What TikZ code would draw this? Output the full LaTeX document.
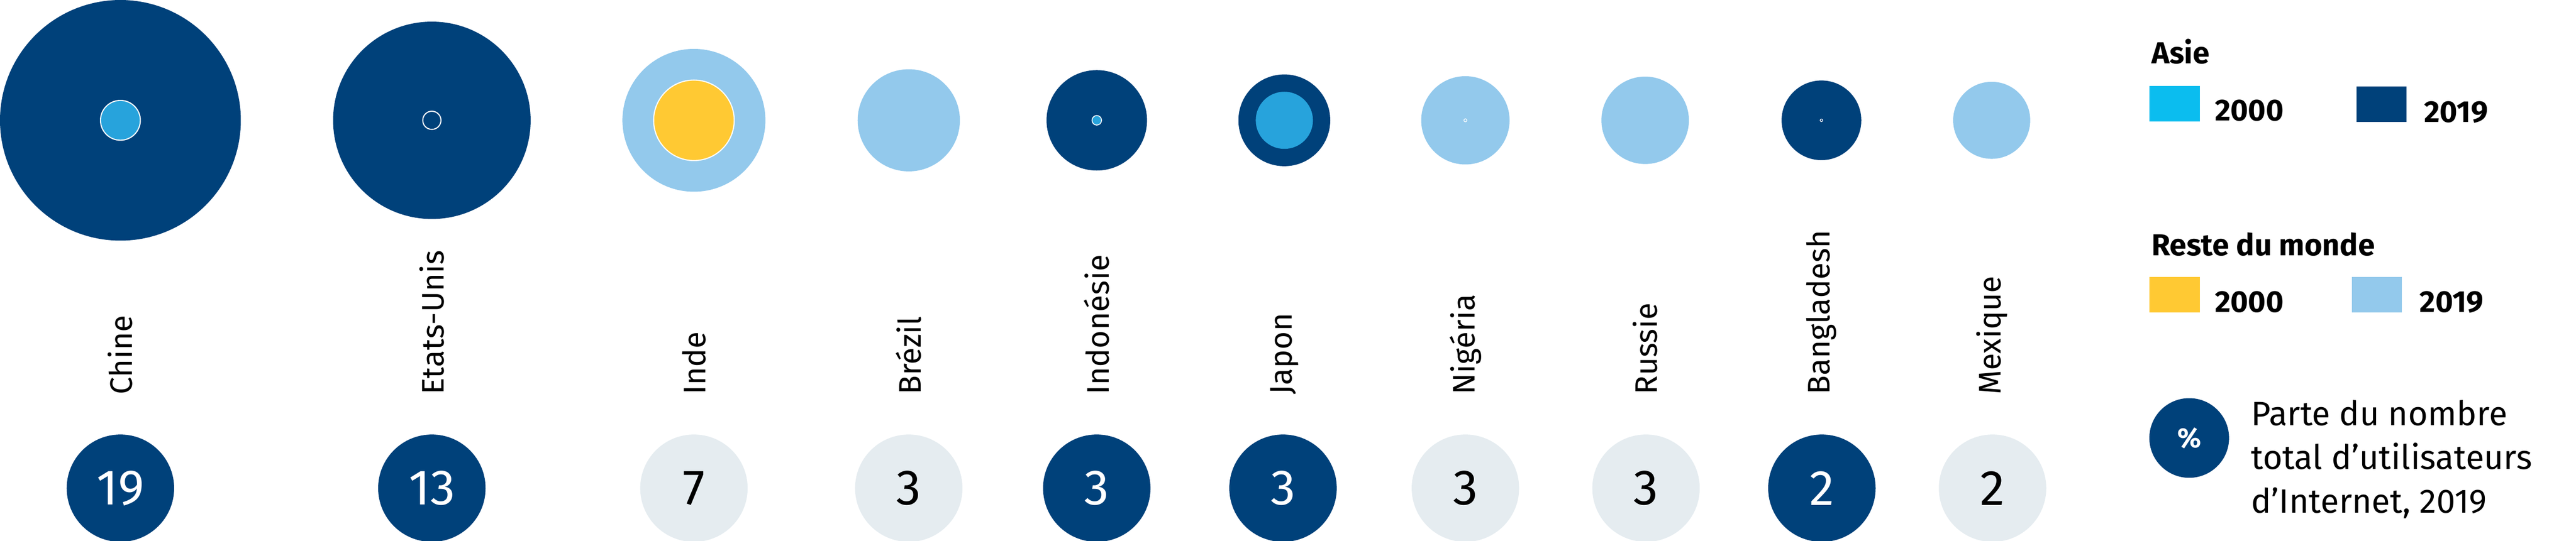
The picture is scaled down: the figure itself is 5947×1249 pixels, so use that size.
\documentclass[tikz,border=0pt]{standalone}
\usepackage{fontspec}
\setmainfont{Fira Sans}
\definecolor{dblue}{HTML}{00417A}
\definecolor{ablue}{HTML}{27A3DC}
\definecolor{legblue}{HTML}{0BBDEF}
\definecolor{lblue}{HTML}{93C9EC}
\definecolor{yel}{HTML}{FFC933}
\definecolor{lgrey}{HTML}{E5ECF0}
\begin{document}
\begin{tikzpicture}[x=1pt,y=-1pt,
  outer/.style={circle,inner sep=0pt,minimum size=#1},
  inner/.style={circle,inner sep=0pt,minimum size=#1,draw=white,line width=2.5pt},
  clabel/.style={rotate=90,anchor=west,inner sep=0pt,font=\fontsize{72}{80}\selectfont},
  share/.style={circle,inner sep=0pt,minimum size=248,font=\fontsize{115}{120}\selectfont},
  sharedark/.style={share,fill=dblue,text=white},
  sharelight/.style={share,fill=lgrey,text=black},
  swatch/.style={inner sep=0pt,minimum width=116,minimum height=82,anchor=north west},
  legtitle/.style={anchor=base west,inner sep=0pt,font=\bfseries\fontsize{70}{74}\selectfont},
  legtext/.style={anchor=base west,inner sep=0pt,font=\bfseries\fontsize{70}{74}\selectfont}]
\useasboundingbox (0,0) rectangle (5947,1249);
% big circles
\node[outer=556,fill=dblue] (o1) at (278,278) {};
\node[inner=92,fill=ablue] (i1) at (278,278) {};
\node[outer=456,fill=dblue] (o2) at (997,278) {};
\node[inner=42,fill=dblue] (i2) at (997,278) {};
\node[outer=330,fill=lblue] (o3) at (1602,278) {};
\node[inner=186,fill=yel] (i3) at (1602,278) {};
\node[outer=236,fill=lblue] (o4) at (2098,278) {};
\node[outer=232,fill=dblue] (o5) at (2532,278) {};
\node[inner=22,fill=ablue,line width=2pt] (i5) at (2532,278) {};
\node[outer=212,fill=dblue] (o6) at (2965,278) {};
\node[circle,inner sep=0pt,minimum size=132,fill=ablue] (i6) at (2965,278) {};
\node[outer=204,fill=lblue] (o7) at (3383,278) {};
\node[inner=7,fill=lblue,line width=1.5pt] (i7) at (3383,278) {};
\node[outer=202,fill=lblue] (o8) at (3798,278) {};
\node[outer=184,fill=dblue] (o9) at (4205,278) {};
\node[inner=6,fill=dblue,line width=1.5pt] (i9) at (4205,278) {};
\node[outer=178,fill=lblue] (o10) at (4598,278) {};
% labels
\node[clabel] (l1) at (278,912) {Chine};
\node[clabel] (l2) at (997,912) {Etats-Unis};
\node[clabel] (l3) at (1602,912) {Inde};
\node[clabel] (l4) at (2098,912) {Brézil};
\node[clabel] (l5) at (2532,912) {Indonésie};
\node[clabel] (l6) at (2965,912) {Japon};
\node[clabel] (l7) at (3383,912) {Nigéria};
\node[clabel] (l8) at (3798,912) {Russie};
\node[clabel] (l9) at (4205,912) {Bangladesh};
\node[clabel] (l10) at (4598,912) {Mexique};
% shares
\node[sharedark] (s1) at (278,1128) {19};
\node[sharedark] (s2) at (997,1128) {13};
\node[sharelight] (s3) at (1602,1128) {7};
\node[sharelight] (s4) at (2098,1128) {3};
\node[sharedark] (s5) at (2532,1128) {3};
\node[sharedark] (s6) at (2962,1128) {3};
\node[sharelight] (s7) at (3383,1128) {3};
\node[sharelight] (s8) at (3800,1128) {3};
\node[sharedark] (s9) at (4206,1128) {2};
\node[sharelight] (s10) at (4600,1128) {2};
% legend
\node[legtitle] (asie) at (4967,147) {Asie};
\node[swatch,fill=legblue] (a0) at (4962,198) {};
\node[legtext] (a0t) at (5113,279) {2000};
\node[swatch,fill=dblue] (a9) at (5440,200) {};
\node[legtext] (a9t) at (5596,283) {2019};
\node[legtitle] (rdm) at (4967,590) {Reste du monde};
\node[swatch,fill=yel] (r0) at (4962,640) {};
\node[legtext] (r0t) at (5113,721) {2000};
\node[swatch,fill=lblue] (r9) at (5429,640) {};
\node[legtext] (r9t) at (5586,721) {2019};
\node[circle,inner sep=0pt,minimum size=184,fill=dblue,text=white,font=\bfseries\fontsize{64}{66}\selectfont] (pc) at (5054,1012) {\%};
\node[anchor=base west,inner sep=0pt,align=left,font=\fontsize{78}{101}\selectfont] (pt) at (5197,1185) {Parte du nombre\\total d’utilisateurs\\d’Internet, 2019};
\end{tikzpicture}
\end{document}
